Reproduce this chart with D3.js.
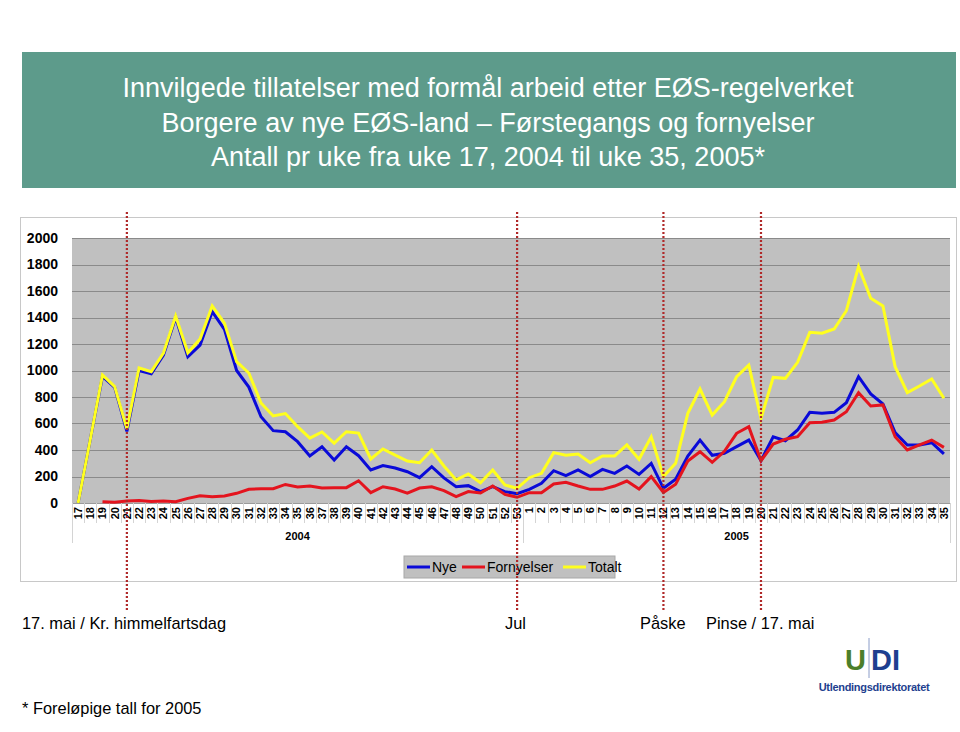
<!DOCTYPE html>
<html>
<head>
<meta charset="utf-8">
<script src="https://cdn.jsdelivr.net/npm/d3@7"></script>
<style>
  body { margin: 0; background: #fff; }
  svg { display: block; font-family: "Liberation Sans", Arial, sans-serif; }
</style>
</head>
<body>
<div id="root"></div>
<script>

const weeks2004 = [17,18,19,20,21,22,23,24,25,26,27,28,29,30,31,32,33,34,35,36,37,38,39,40,41,42,43,44,45,46,47,48,49,50,51,52,53];
const weeks2005 = [1,2,3,4,5,6,7,8,9,10,11,12,13,14,15,16,17,18,19,20,21,22,23,24,25,26,27,28,29,30,31,32,33,34,35];

const nye2004 = [0,480,955,873,540,1000,975,1117,1400,1104,1192,1444,1310,1000,875,651,546,538,463,355,425,325,425,357,249,282,264,236,191,274,189,123,131,86,123,86,70];
const nye2005 = [103,148,244,206,249,199,254,224,279,216,299,111,179,355,475,360,375,425,475,320,500,470,551,684,677,684,757,953,823,747,531,438,438,455,370];

const forny2004 = [null,null,10,5,15,18,12,15,10,35,55,48,53,73,103,108,108,140,121,128,113,116,116,168,78,123,106,75,113,123,93,48,86,75,128,65,43];
const forny2005 = [78,78,143,156,128,103,103,128,166,106,199,80,141,317,387,307,390,526,576,319,445,481,500,606,609,626,689,833,732,740,500,400,438,475,420];

const total2004 = [0,480,966,878,560,1019,991,1132,1411,1134,1237,1487,1358,1067,981,755,657,675,576,490,536,452,538,528,332,408,362,317,304,400,279,174,219,153,249,136,111];
const total2005 = [191,224,380,360,370,304,355,355,438,330,500,199,299,677,860,664,765,953,1041,639,948,941,1062,1288,1281,1313,1451,1784,1545,1487,1029,833,883,936,790];

const yTicks = [0,200,400,600,800,1000,1200,1400,1600,1800,2000];
const holidays = ["2004-21", "2004-53", "2005-12", "2005-20"];

const titleLines = [
	"Innvilgede tillatelser med formål arbeid etter EØS-regelverket",
	"Borgere av nye EØS-land – Førstegangs og fornyelser",
	"Antall pr uke fra uke 17, 2004 til uke 35, 2005*"
];

const width = 960;
const height = 732;

const keys = weeks2004.map(w => `2004-${w}`).concat(weeks2005.map(w => `2005-${w}`));
const weekOf = key => key.split("-")[1];

const series = [
	{ name: "Nye", color: "#0a0ad8", values: nye2004.concat(nye2005) },
	{ name: "Fornyelser", color: "#e4141e", values: forny2004.concat(forny2005) },
	{ name: "Totalt", color: "#ffff1e", values: total2004.concat(total2005) }
];

const x = d3.scaleBand()
			.domain(keys)
			.range([72, 950]);

const y = d3.scaleLinear()
			.domain([0, 2000])
			.range([503, 238]);

const svg = d3.select("#root")
				.append("svg")
					.attr("width", width)
					.attr("height", height);

//title
svg.append("rect")
		.attr("x", 22)
		.attr("y", 52)
		.attr("width", 934)
		.attr("height", 136)
		.style("fill", "#5d9b8b");

svg.append("g")
	.selectAll("text")
		.data(titleLines)
		.join("text")
			.attr("x", 488)
			.attr("y", (d, i) => 97 + i * 34.5)
			.attr("text-anchor", "middle")
			.style("fill", "#fff")
			.style("font-size", "27px")
			.text(d => d);

//chart frame
svg.append("rect")
		.attr("x", 20.5)
		.attr("y", 217.5)
		.attr("width", 936)
		.attr("height", 364)
		.style("fill", "#fff")
		.style("stroke", "#c8c8c8");

svg.append("rect")
		.attr("x", x.range()[0])
		.attr("y", y(2000))
		.attr("width", x.range()[1] - x.range()[0])
		.attr("height", y(0) - y(2000))
		.style("fill", "#c0c0c0");

svg.append("g")
	.selectAll("line")
		.data(yTicks)
		.join("line")
			.attr("x1", x.range()[0])
			.attr("x2", x.range()[1])
			.attr("y1", d => Math.round(y(d)) + 0.5)
			.attr("y2", d => Math.round(y(d)) + 0.5)
			.style("stroke", d => d === 0 ? "#9a9a9a" : "#8a8a8a")
			.style("stroke-width", 1.2);

//y labels
svg.append("g")
		.attr("transform", `translate(${ x.range()[0] }, 0)`)
		.call(d3.axisLeft(y).tickValues(yTicks).tickFormat(d3.format("d")).tickSize(0).tickPadding(14))
		.call(g => g.select(".domain").remove())
		.selectAll("text")
			.style("font-family", "'Liberation Sans', Arial, sans-serif")
			.style("font-size", "14px")
			.style("font-weight", "bold")
			.style("fill", "#000");

//category separators under the axis
const edges = keys.map(k => x(k)).concat([x.range()[1]]);
svg.append("g")
	.selectAll("line")
		.data(edges)
		.join("line")
			.attr("x1", d => Math.round(d) + 0.5)
			.attr("x2", d => Math.round(d) + 0.5)
			.attr("y1", y(0))
			.attr("y2", (d, i) => (i === 0 || i === weeks2004.length || i === keys.length) ? 543 : 523)
			.style("stroke", "#d4d4d4");

//x labels
svg.append("g")
		.attr("transform", `translate(0, ${ y(0) })`)
		.call(d3.axisBottom(x).tickFormat(weekOf).tickSize(0).tickPadding(0))
		.call(g => g.select(".domain").remove())
		.selectAll("text")
			.attr("transform", "rotate(-90)")
			.attr("x", -4)
			.attr("y", 0)
			.attr("dy", "0.35em")
			.attr("text-anchor", "end")
			.style("font-family", "'Liberation Sans', Arial, sans-serif")
			.style("font-size", "11px")
			.style("font-weight", "bold")
			.style("fill", "#000");

//year labels
const years = [
	{ label: "2004", from: keys[0], to: keys[weeks2004.length - 1] },
	{ label: "2005", from: keys[weeks2004.length], to: keys[keys.length - 1] }
];
svg.append("g")
	.selectAll("text")
		.data(years)
		.join("text")
			.attr("x", d => (x(d.from) + x(d.to) + x.bandwidth()) / 2)
			.attr("y", 540)
			.attr("text-anchor", "middle")
			.style("font-size", "11px")
			.style("font-weight", "bold")
			.text(d => d.label);

//lines
const line = d3.line()
				.defined(d => d.v !== null)
				.x(d => x(d.key) + x.bandwidth() / 2)
				.y(d => y(d.v));

svg.append("g")
	.selectAll("path")
		.data(series)
		.join("path")
			.attr("d", s => line(s.values.map((v, i) => ({ key: keys[i], v: v }))))
			.style("fill", "none")
			.style("stroke", s => s.color)
			.style("stroke-width", 3)
			.style("stroke-linejoin", "miter");

//legend
const legend = svg.append("g")
					.attr("transform", "translate(404, 556)");

legend.append("rect")
		.attr("width", 211)
		.attr("height", 22)
		.style("fill", "#c0c0c0")
		.style("stroke", "#a8a8a8");

const legendX = [3, 58, 159];
const item = legend.selectAll("g")
				.data(series)
				.join("g")
					.attr("transform", (d, i) => `translate(${ legendX[i] }, 11)`);

item.append("line")
		.attr("x1", 0)
		.attr("x2", 23)
		.style("stroke", d => d.color)
		.style("stroke-width", 3);

item.append("text")
		.attr("x", 25)
		.attr("dy", "0.35em")
		.style("font-size", "14px")
		.text(d => d.name);

//holiday markers
svg.append("g")
	.selectAll("line")
		.data(holidays)
		.join("line")
			.attr("x1", d => x(d) + x.bandwidth() / 2)
			.attr("x2", d => x(d) + x.bandwidth() / 2)
			.attr("y1", 212)
			.attr("y2", 612)
			.style("stroke", "#b02828")
			.style("stroke-width", 2.2)
			.style("stroke-dasharray", "2,2");

const notes = [
	{ text: "17. mai / Kr. himmelfartsdag", x: 22 },
	{ text: "Jul", x: 505 },
	{ text: "Påske", x: 640 },
	{ text: "Pinse / 17. mai", x: 706 }
];
svg.append("g")
	.selectAll("text")
		.data(notes)
		.join("text")
			.attr("x", d => d.x)
			.attr("y", 629)
			.style("font-size", "16.4px")
			.text(d => d.text);

svg.append("text")
		.attr("x", 22)
		.attr("y", 714)
		.style("font-size", "16.4px")
		.text("* Foreløpige tall for 2005");

//UDI logo
const logo = svg.append("g");
logo.append("text")
		.attr("x", 845)
		.attr("y", 670)
		.style("font-size", "29px")
		.style("font-weight", "bold")
		.style("fill", "#4c7f2a")
		.text("U");
logo.append("text")
		.attr("x", 871)
		.attr("y", 670)
		.style("font-size", "29px")
		.style("font-weight", "bold")
		.style("fill", "#1e3f8f")
		.text("DI");
logo.append("line")
		.attr("x1", 869)
		.attr("x2", 869)
		.attr("y1", 638)
		.attr("y2", 678)
		.style("stroke", "#8a9cc8")
		.style("stroke-width", 1);
logo.append("text")
		.attr("x", 874)
		.attr("y", 691)
		.attr("text-anchor", "middle")
		.style("font-size", "11px")
		.style("font-weight", "bold")
		.style("fill", "#1e3f8f")
		.style("letter-spacing", "-0.3px")
		.text("Utlendingsdirektoratet");

</script>
</body>
</html>
